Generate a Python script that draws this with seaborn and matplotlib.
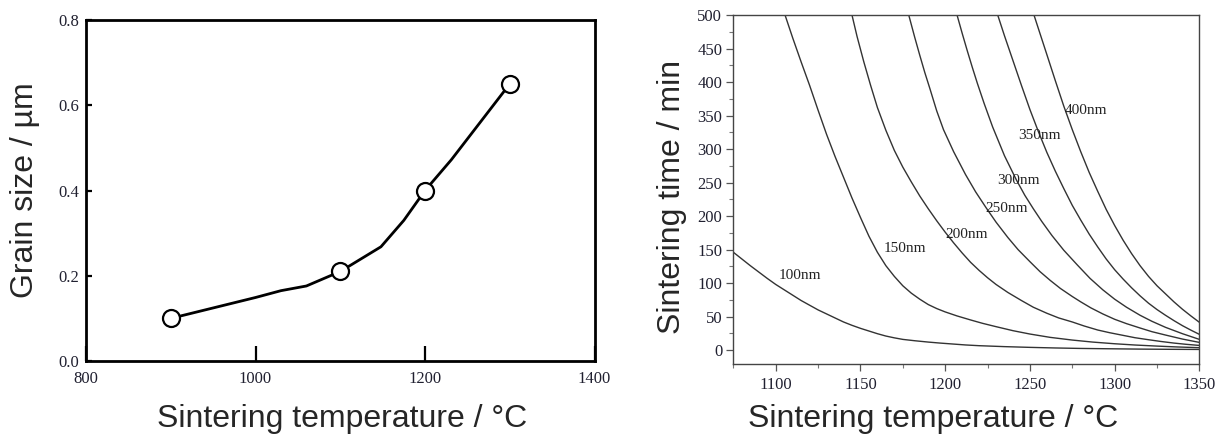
import numpy as np
import pandas as pd
import matplotlib
matplotlib.use("Agg")
import matplotlib.pyplot as plt
from matplotlib.ticker import MultipleLocator, FormatStrFormatter
import seaborn as sns

# ---- Left panel: grain size vs. sintering temperature ----
temp_pts = [900, 1100, 1200, 1300]
grain_pts = [0.10, 0.21, 0.40, 0.65]
# connecting trace with its intermediate vertices
trace_temp = [900, 1000, 1030, 1060, 1100, 1148, 1175, 1200, 1231, 1300]
trace_grain = [0.10, 0.149, 0.165, 0.176, 0.21, 0.268, 0.33, 0.40, 0.472, 0.65]

# ---- Right panel: sintering time needed to reach a given grain size ----
T_100 = [1075, 1080, 1085, 1090, 1095, 1100, 1105, 1110, 1115, 1120, 1125, 1130, 1135,
         1140, 1145, 1150, 1155, 1160, 1165, 1170, 1175, 1182, 1190, 1197, 1205, 1212,
         1220, 1235, 1250, 1265, 1280, 1297, 1315, 1332, 1350]
t_100 = [146, 136, 126, 116.5, 107, 98, 90, 82, 74, 67, 60, 54, 48,
         42, 37, 32.5, 28.5, 24.5, 21, 18.3, 16, 14, 12, 10.5, 9, 7.7,
         6.6, 5.2, 4.1, 3.2, 2.5, 2, 1.5, 1.2, 1]
T_150 = [1105.5, 1110, 1115, 1120, 1125, 1130, 1135, 1140, 1145, 1150, 1155, 1160, 1165,
         1170, 1175, 1180, 1185, 1190, 1195, 1200, 1207, 1215, 1222, 1230, 1240, 1250,
         1262, 1275, 1287, 1300, 1312, 1325, 1337, 1350]
t_150 = [500, 466, 430, 395, 358, 322, 289, 258, 227, 198, 170, 146, 126,
         110, 96, 85, 76, 68, 62, 57, 51, 45, 40, 35, 29, 24,
         19, 15, 12, 9.5, 7.6, 6, 4.7, 3.6]
T_200 = [1145, 1148, 1152, 1156, 1160, 1165, 1170, 1175, 1180, 1185, 1190, 1195, 1200,
         1205, 1210, 1215, 1220, 1225, 1230, 1237, 1245, 1252, 1260, 1267, 1275, 1282,
         1290, 1297, 1305, 1312, 1320, 1327, 1335, 1342, 1350]
t_200 = [500, 468, 430, 395, 362, 328, 298, 273, 251, 230, 211, 193, 176,
         160, 145, 131, 119, 108, 98, 86, 74, 64, 55, 48, 42, 36,
         30, 26, 22, 18.5, 15.5, 13, 10.5, 8.7, 7]
T_250 = [1178.5, 1182, 1185, 1188, 1191, 1195, 1199, 1205, 1212, 1218, 1224, 1230, 1237,
         1243, 1250, 1256, 1262, 1268, 1275, 1280, 1286, 1293, 1300, 1307, 1315, 1322,
         1330, 1340, 1350]
t_250 = [500, 467, 440, 414, 390, 357, 329, 296, 262, 236, 213, 191, 168,
         150, 132, 117, 104, 92, 80, 72, 63, 54, 46, 39.5, 33, 27.5,
         22.5, 16.5, 11.5]
T_300 = [1207, 1210, 1213, 1216, 1219, 1223, 1228, 1235, 1242, 1247, 1252, 1257, 1263,
         1270, 1278, 1285.5, 1293, 1300, 1307, 1315, 1322, 1330, 1340, 1350]
t_300 = [500, 473, 447, 422, 398, 368, 333, 290, 254, 231, 211, 192, 171,
         149, 127, 107, 90, 76, 64, 52, 43, 34, 24.5, 16]
T_350 = [1231, 1235, 1240, 1245, 1250, 1255, 1260, 1265, 1270, 1275, 1280, 1285, 1290,
         1295, 1300, 1305, 1310, 1315, 1320, 1325, 1330, 1335, 1340, 1345, 1350]
t_350 = [500, 469, 432, 395, 359, 326, 295, 267, 241, 216, 194, 173, 154,
         136, 120, 106, 93, 81, 70, 60.5, 52, 44, 36.5, 29.8, 23.5]
T_400 = [1252.4, 1256, 1260, 1265, 1270, 1275, 1280, 1285, 1290, 1295, 1300, 1305, 1310,
         1315, 1320, 1325, 1330, 1335, 1340, 1345, 1350]
t_400 = [500, 472, 441, 402, 364, 329, 296, 265, 237, 210, 186, 164, 144,
         126, 110, 96, 84, 72, 61, 51, 41.5]

size_names = ["100nm", "150nm", "200nm", "250nm", "300nm", "350nm", "400nm"]
label_T = [1102, 1163.5, 1200.2, 1224, 1230.9, 1242.9, 1270.7]
label_t = [111, 151, 173, 212, 253, 320, 358]

curves = pd.concat(
    [pd.DataFrame({"T": T, "t": t, "size": name})
     for T, t, name in zip([T_100, T_150, T_200, T_250, T_300, T_350, T_400],
                           [t_100, t_150, t_200, t_250, t_300, t_350, t_400],
                           size_names)],
    ignore_index=True)

sns.set_style("ticks")
plt.rcParams["font.family"] = ["Liberation Sans", "DejaVu Sans"]

serif = ["Liberation Serif", "DejaVu Serif"]
tick_color = "#202030"

fig = plt.figure(figsize=(12.19, 4.34), dpi=100)
axL = fig.add_axes([0.0706, 0.1682, 0.4171, 0.7857])
axR = fig.add_axes([0.6016, 0.1624, 0.3823, 0.8030])

# ---------------- left panel ----------------
sns.lineplot(x=trace_temp, y=trace_grain, ax=axL, color="black", lw=2.0,
             sort=False, estimator=None, zorder=2)
sns.scatterplot(x=temp_pts, y=grain_pts, ax=axL, s=150, color="white",
                edgecolor="black", linewidth=1.6, zorder=3)
axL.set_xlim(800, 1400)
axL.set_ylim(0, 0.8)
axL.set_xticks([800, 1000, 1200, 1400])
axL.set_yticks([0.0, 0.2, 0.4, 0.6, 0.8])
axL.yaxis.set_major_formatter(FormatStrFormatter("%.1f"))
for s in axL.spines.values():
    s.set_visible(True)
    s.set_linewidth(2.0)
    s.set_color("black")
axL.tick_params(axis="x", direction="in", length=11, width=1.6, pad=7,
                colors="black", labelcolor=tick_color, labelsize=12)
axL.tick_params(axis="y", direction="in", length=4, width=1.6, pad=5,
                colors="black", labelcolor=tick_color, labelsize=12)
for lab in axL.get_xticklabels() + axL.get_yticklabels():
    lab.set_family(serif)
axL.set_xlabel("Sintering temperature / °C", fontsize=23, va="baseline")
axL.xaxis.set_label_coords(0.504, -0.1935)
axL.set_ylabel("Grain size / µm", fontsize=23, va="baseline")
axL.yaxis.set_label_coords(-0.1044, 0.501)

# ---------------- right panel ----------------
sns.lineplot(data=curves, x="T", y="t", hue="size", hue_order=size_names,
             palette=["#333333"] * len(size_names), lw=1.0, legend=False,
             estimator=None, sort=False, ax=axR)
for name, x, y in zip(size_names, label_T, label_t):
    axR.text(x, y, name, family=serif, fontsize=11, color="#222222",
             ha="left", va="center")
axR.set_xlim(1075, 1350)
axR.set_ylim(-20, 500)
axR.xaxis.set_major_locator(MultipleLocator(50))
axR.xaxis.set_minor_locator(MultipleLocator(25))
axR.yaxis.set_major_locator(MultipleLocator(50))
axR.yaxis.set_minor_locator(MultipleLocator(25))
axR.set_xticks([1100, 1150, 1200, 1250, 1300, 1350])
for s in axR.spines.values():
    s.set_visible(True)
    s.set_linewidth(1.0)
    s.set_color("#444444")
axR.tick_params(which="major", direction="out", length=5, width=0.9,
                colors="#555555", labelcolor=tick_color, labelsize=12)
axR.tick_params(which="minor", direction="out", length=3, width=0.8,
                colors="#777777")
axR.tick_params(axis="y", pad=3)
axR.tick_params(axis="x", pad=5)
for lab in axR.get_xticklabels() + axR.get_yticklabels():
    lab.set_family(serif)
axR.set_xlabel("Sintering temperature / °C", fontsize=23, va="baseline")
axR.xaxis.set_label_coords(0.4285, -0.1822)
axR.set_ylabel("Sintering time / min", fontsize=23, va="baseline")
axR.yaxis.set_label_coords(-0.1144, 0.4786)

fig.savefig("out.png", dpi=100)
